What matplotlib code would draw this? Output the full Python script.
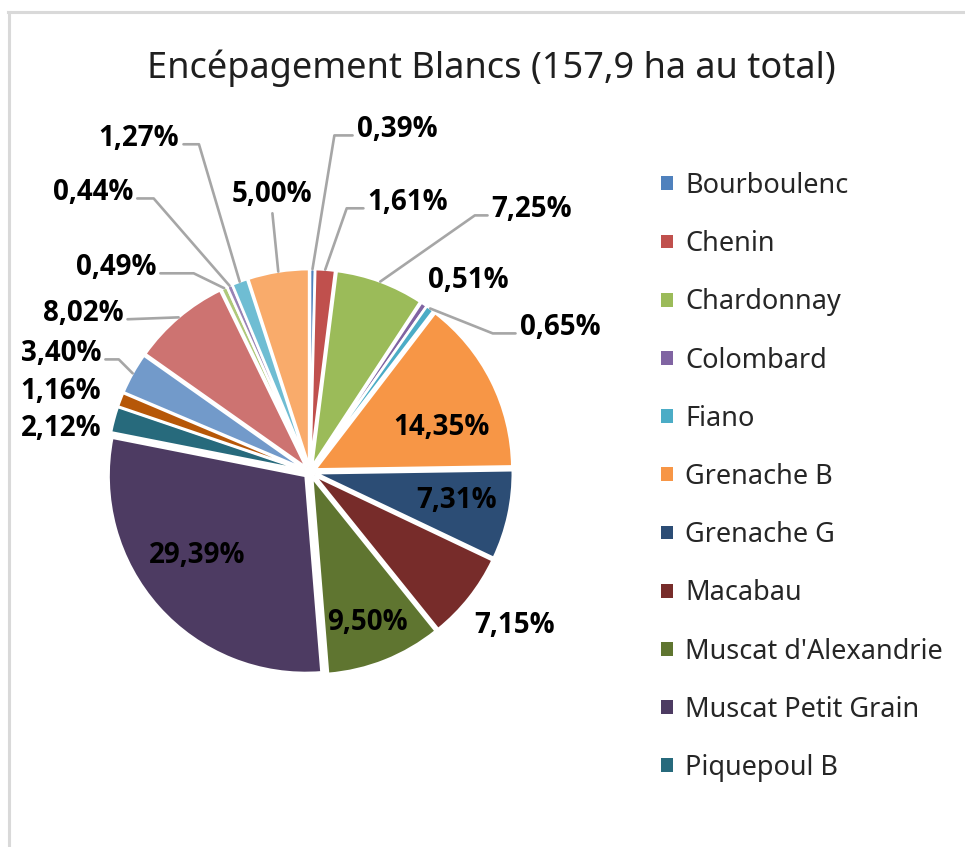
import matplotlib
matplotlib.use('Agg')
import numpy as np
import matplotlib.pyplot as plt
from matplotlib.patches import Patch
from matplotlib.lines import Line2D

plt.rcParams['font.family'] = ['Noto Sans', 'DejaVu Sans']

# share of each grape variety in %, clockwise from 12 o'clock
cepages = ['Bourboulenc', 'Chenin', 'Chardonnay', 'Colombard', 'Fiano',
           'Grenache B', 'Grenache G', 'Macabau', "Muscat d'Alexandrie",
           'Muscat Petit Grain', 'Piquepoul B',
           'Roussanne', 'Sauvignon', 'Sémillon', 'Terret', 'Ugni Blanc',
           'Vermentino', 'Viognier']
parts = [0.39, 1.61, 7.25, 0.51, 0.65, 14.35, 7.31, 7.15, 9.50, 29.39,
         2.12, 1.16, 3.40, 8.02, 0.49, 0.44, 1.27, 5.00]
n_legend = 11  # the legend in the original is cut after Piquepoul B

colors = ['#4F81BD', '#C0504D', '#9BBB59', '#8064A2', '#4BACC6', '#F79646',
          '#2C4D75', '#772C2A', '#5F7530', '#4D3B62', '#276A7C', '#B65708',
          '#729ACA', '#CD7371', '#AFC97A', '#9983B5', '#6FBDD3', '#F9AB6B']

# label placement (pie radius units) and leader line angle
label_xy = [(0.442, 1.751), (0.497, 1.381), (1.127, 1.345), (0.802, 0.985),
            (1.269, 0.746), (0.667, 0.239), (0.746, -0.132), (1.036, -0.766),
            (0.294, -0.751), (-0.574, -0.411), (-1.264, 0.234), (-1.264, 0.421),
            (-1.264, 0.614), (-1.152, 0.817), (-0.985, 1.051), (-1.102, 1.431),
            (-0.868, 1.706), (-0.193, 1.421)]
leaders = [80.7, 70.7, 35, None, -21.7, None, None, None, None, None,
           None, None, 135, 'straight', 154, 131, 106.5, 'straight']

W, H = 965, 847
cx, cy, R = 310, 472, 197
expl = 0.03

fig = plt.figure(figsize=(W / 100, H / 100), dpi=100)
ax = fig.add_axes([0, 0, 1, 1])
wedges, _ = ax.pie(parts, colors=colors, startangle=90, counterclock=False,
                   explode=[expl] * len(parts),
                   wedgeprops=dict(edgecolor='white', linewidth=1.8))
ax.set_xlim(-cx / R, (W - cx) / R)
ax.set_ylim(-(H - cy) / R, cy / R)
ax.set_aspect('auto')
ax.axis('off')

text_dy = -0.013
for w, v, (lx, ly), lead in zip(wedges, parts, label_xy, leaders):
    txt = f"{v:.2f}".replace('.', ',') + '%'
    ang = np.deg2rad((w.theta1 + w.theta2) / 2)
    wx = w.center[0] + w.r * np.cos(ang)
    wy = w.center[1] + w.r * np.sin(ang)
    kw = dict(ha='center', va='center', fontsize=20, fontweight='bold',
              color='black', family=['Open Sans', 'DejaVu Sans'])
    if lead is None:
        ax.text(lx, ly + text_dy, txt, **kw)
        continue
    if lead == 'straight':
        cs = 'arc3'
        if abs(lx - wx) < abs(ly - wy):
            relpos = (0.5, 0.0)
        else:
            relpos = (1.0, 0.3) if lx < wx else (0.0, 0.3)
    else:
        cs = f'angle,angleA=0,angleB={lead},rad=0'
        relpos = (1.0, 0.3) if lx < wx else (0.0, 0.3)
    ax.annotate(txt, xy=(wx, wy), xytext=(lx, ly + text_dy),
                arrowprops=dict(arrowstyle='-', color='#A6A6A6', lw=1.9,
                                connectionstyle=cs, relpos=relpos,
                                shrinkA=1, shrinkB=0),
                **kw)

fig.text(491 / W, 1 - 68 / H, 'Encépagement Blancs (157,9 ha au total)',
         ha='center', va='center', fontsize=26, color='#1F1F1F')

handles = [Patch(facecolor=c, edgecolor='none') for c in colors[:n_legend]]
fig.legend(handles, cepages[:n_legend], loc='upper left',
           bbox_to_anchor=(661 / W, 1 - 172 / H), frameon=False,
           fontsize=19.5, labelcolor='#262626',
           handlelength=0.45, handleheight=0.41, handletextpad=0.45,
           labelspacing=1.115, borderpad=0, borderaxespad=0)

# chart area border (only top and left visible in the crop)
fig.add_artist(Line2D([7.5 / W, 1], [1 - 12.5 / H] * 2,
                      transform=fig.transFigure, color='#D9D9D9', lw=2.2))
fig.add_artist(Line2D([8.5 / W] * 2, [0, 1 - 12.5 / H],
                      transform=fig.transFigure, color='#D9D9D9', lw=2.2))

fig.savefig('out.png', dpi=100, facecolor='white')
